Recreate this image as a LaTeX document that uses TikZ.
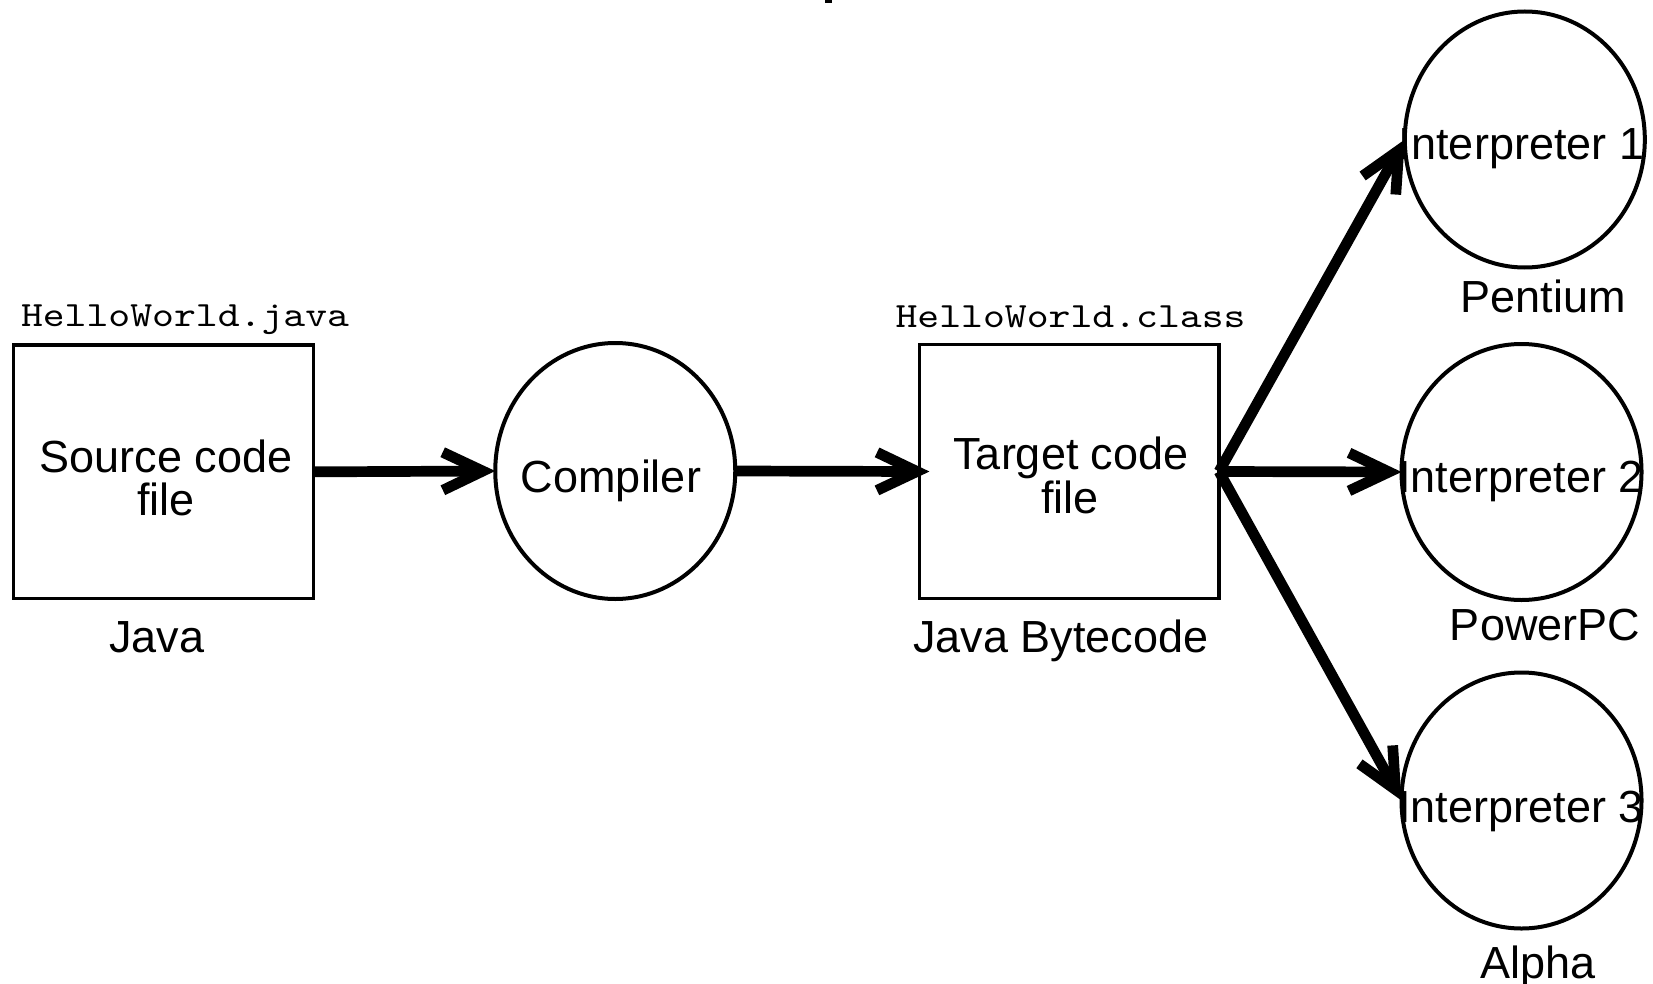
\documentclass[tikz,border=0pt]{standalone}
\usepackage{fontspec}
\setmainfont{Liberation Sans}
\usetikzlibrary{shapes.geometric,arrows.meta}
\begin{document}
\begin{tikzpicture}[x=1pt,y=-1pt,
  box/.style={draw, line width=3.5pt, rectangle, minimum width=299.6pt, minimum height=253.7pt, inner sep=0pt, outer sep=0pt},
  proc/.style={draw, line width=4pt, ellipse, minimum width=240pt, minimum height=256pt, inner sep=0pt, outer sep=0pt},
  txt/.style={anchor=base, inner sep=0pt, font=\fontsize{45pt}{45pt}\selectfont},
  fname/.style={anchor=base, inner sep=0pt},
  flow/.style={line width=10.7pt, -{Straight Barb[length=40pt,width=38pt]}}
]
\fill[white] (0,0) rectangle (1653,984);
\useasboundingbox (0,0) rectangle (1653,984);

% fragment of cut-off text at the top edge
\fill (825,0) rectangle (832,3);

% shapes
\node[box]  (src)  at (163.5,471.85) {};
\node[proc] (comp) at (615.25,471) {};
\node[box]  (tgt)  at (1069.25,471.5) {};
\node[proc] (i1)   at (1524.8,139.5) {};
\node[proc] (i2)   at (1521.5,472) {};
\node[proc] (i3)   at (1521.5,800.5) {};

% texts
\node[fname] (srcname) at (185,326.7) {\resizebox{328pt}{21.7pt}{\ttfamily HelloWorld.java}};
\node[fname] (tgtname) at (1070.5,327.5) {\resizebox{350pt}{21.7pt}{\ttfamily HelloWorld.class}};
\node[txt] (srct1)   at (166,472)    {Source code};
\node[txt] (srct2)   at (166,515)    {file};
\node[txt] (srclang) at (157,652)    {Java};
\node[txt] (comptxt) at (611,492)    {Compiler};
\node[txt] (tgtt1)   at (1071,469)   {Target code};
\node[txt] (tgtt2)   at (1070,513)   {file};
\node[txt] (tgtlang) at (1061,652)   {Java Bytecode};
\node[txt] (i1t)     at (1521.5,160) {Interpreter 1};
\node[txt] (i1l)     at (1543,312)   {Pentium};
\node[txt] (i2t)     at (1521,492)   {Interpreter 2};
\node[txt] (i2l)     at (1545,640)   {PowerPC};
\node[txt] (i3t)     at (1521,822)   {Interpreter 3};
\node[txt] (i3l)     at (1538,978)   {Alpha};

% connectors
\draw[flow] (src.east) -- (comp.west);
\draw[flow, shorten >=-10pt] (comp.east) -- (tgt.west);
\draw[flow] (tgt.east) -- (i1.west);
\draw[flow] (tgt.east) -- (i2.west);
\draw[flow] (tgt.east) -- (i3.west);
\end{tikzpicture}
\end{document}
